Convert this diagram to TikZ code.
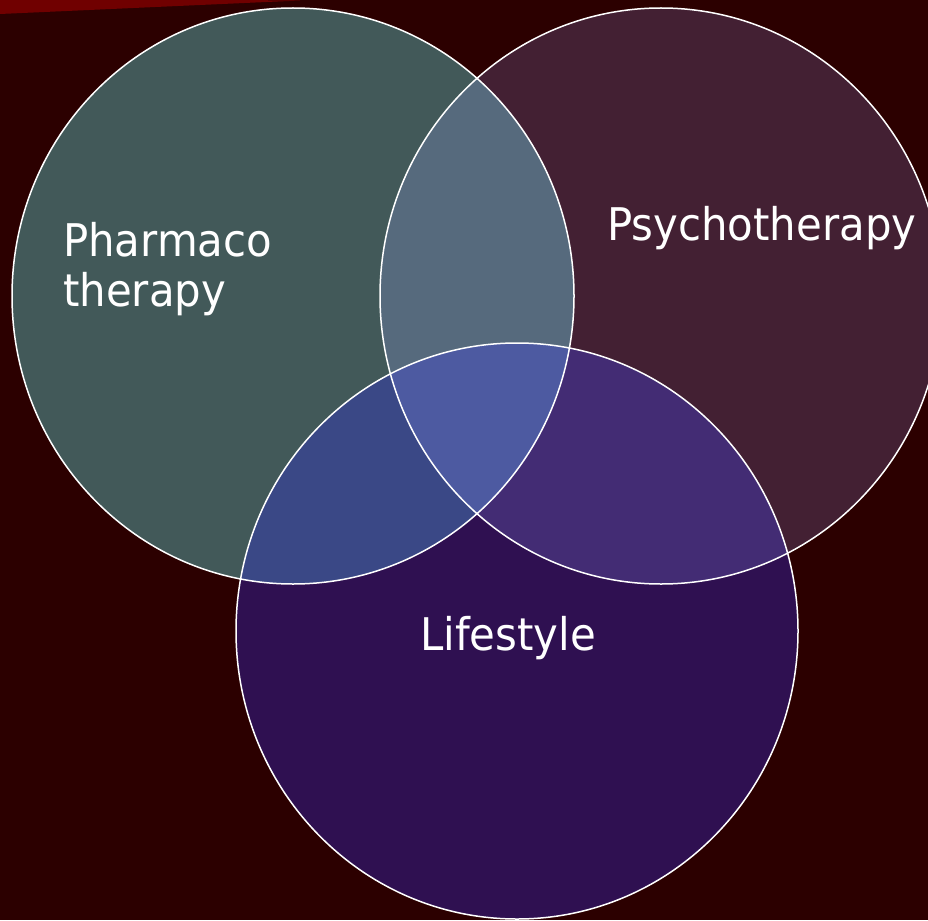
\documentclass[tikz,border=0pt]{standalone}
\usepackage{fontspec}
\setmainfont[FakeStretch=0.93]{DejaVu Sans}
\usetikzlibrary{positioning}
\definecolor{bgdark}{HTML}{2C0000}
\definecolor{bandred}{HTML}{700000}
\definecolor{pharmafill}{HTML}{425959}
\definecolor{psychofill}{HTML}{432033}
\definecolor{lifefill}{HTML}{2F1051}
\definecolor{phpsfill}{HTML}{566A7D}
\definecolor{phlifill}{HTML}{3A4886}
\definecolor{pslifill}{HTML}{432C74}
\definecolor{allfill}{HTML}{4D5AA1}
\def\pharma{(293,296) ellipse [x radius=281,y radius=288]}
\def\psycho{(661,296) ellipse [x radius=281,y radius=288]}
\def\life{(517,631) ellipse [x radius=281,y radius=288]}

\begin{document}
\begin{tikzpicture}[x=1pt,y=-1pt,
    lbl/.style={text=white,font=\fontsize{45}{52}\selectfont,inner sep=0pt}]
    \useasboundingbox (0,0) rectangle (928,920);
    \fill[bgdark] (0,0) rectangle (928,920);
    \fill[bandred] (0,0) -- (235,0) -- (300,0.5) -- (0,14) -- cycle;
    \begin{scope}
    \clip (0,0) rectangle (928,920);
    \fill[pharmafill] \pharma;
    \fill[psychofill] \psycho;
    \fill[lifefill] \life;
    \begin{scope}
        \clip \pharma;
        \fill[phpsfill] \psycho;
        \fill[phlifill] \life;
    \end{scope}
    \begin{scope}
        \clip \psycho;
        \fill[pslifill] \life;
    \end{scope}
    \begin{scope}
        \clip \pharma;
        \clip \psycho;
        \fill[allfill] \life;
    \end{scope}
    \draw[white,line width=1.5pt] \pharma \psycho \life;
    \end{scope}
    \node[lbl,anchor=base west] (pharmaco) at (63,256) {Pharmaco};
    \node[lbl,anchor=base west] (therapy) at (63,306) {therapy};
    \node[lbl,anchor=base west] (psycho) at (607,240) {Psychotherapy};
    \node[lbl,anchor=base] (life) at (508,650) {Lifestyle};
\end{tikzpicture}
\end{document}
